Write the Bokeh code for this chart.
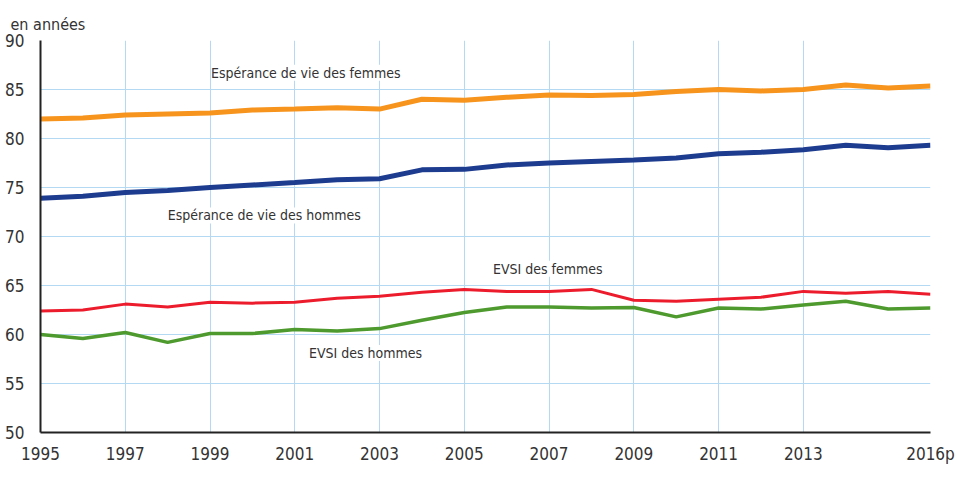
from bokeh.plotting import figure
from bokeh.models import ColumnDataSource, Label, FixedTicker, Range1d
from bokeh.embed import file_html
from bokeh.resources import INLINE

years = list(range(1995, 2017))
esp_femmes = [82.0, 82.1, 82.4, 82.5, 82.6, 82.9, 83.0, 83.15, 83.0, 84.0, 83.9,
              84.2, 84.45, 84.4, 84.5, 84.8, 85.0, 84.85, 85.0, 85.45, 85.15, 85.35]
esp_hommes = [73.9, 74.1, 74.5, 74.7, 75.0, 75.25, 75.5, 75.8, 75.9, 76.8, 76.85,
              77.3, 77.5, 77.65, 77.8, 78.0, 78.45, 78.6, 78.85, 79.3, 79.05, 79.3]
evsi_femmes = [62.4, 62.5, 63.1, 62.8, 63.3, 63.2, 63.3, 63.7, 63.9, 64.3, 64.6,
               64.4, 64.4, 64.6, 63.5, 63.4, 63.6, 63.8, 64.4, 64.2, 64.4, 64.1]
evsi_hommes = [60.0, 59.6, 60.2, 59.2, 60.1, 60.1, 60.5, 60.35, 60.6, 61.45, 62.25,
               62.8, 62.8, 62.7, 62.75, 61.8, 62.7, 62.6, 63.0, 63.4, 62.6, 62.7]

x_ticks = [1995, 1997, 1999, 2001, 2003, 2005, 2007, 2009, 2011, 2013, 2016]
x_tick_labels = {2016: "2016p"}
y_ticks = [50, 55, 60, 65, 70, 75, 80, 85, 90]

label_texts = ["Espérance de vie des femmes", "Espérance de vie des hommes",
               "EVSI des femmes", "EVSI des hommes"]
label_x = [2001.26, 2000.28, 2006.97, 2002.67]
label_y = [86.7, 72.15, 66.7, 58.1]

FONT = "'DejaVu Sans Condensed', 'Roboto', sans-serif"
GRID = "#b3daf2"

p = figure(width=956, height=466, output_backend="svg", toolbar_location=None,
           x_range=Range1d(1995, 2016), y_range=Range1d(50, 90),
           min_border_left=40, min_border_right=26, min_border_top=40, min_border_bottom=26)
p.outline_line_color = None

p.title.text = "en années"
p.title.align = "left"
p.title.offset = -30
p.title.text_font = FONT
p.title.text_font_size = "16px"
p.title.text_font_style = "normal"
p.title.text_color = "#333333"
p.title.standoff = 13

src = ColumnDataSource(dict(x=years, ef=esp_femmes, eh=esp_hommes, vf=evsi_femmes, vh=evsi_hommes))
p.line("x", "ef", source=src, line_color="#f7941d", line_width=5)
p.line("x", "eh", source=src, line_color="#1d3c8f", line_width=5)
p.line("x", "vf", source=src, line_color="#ec1c2d", line_width=3)
p.line("x", "vh", source=src, line_color="#4e9a2e", line_width=3.5)

for t, xx, yy in zip(label_texts, label_x, label_y):
    p.add_layout(Label(x=xx, y=yy, text=t, text_align="center", text_baseline="middle",
                       text_font=FONT, text_font_size="14px", text_color="#333333",
                       background_fill_color="white", level="underlay"))

p.xaxis.ticker = FixedTicker(ticks=x_ticks)
p.xaxis.major_label_overrides = x_tick_labels
p.yaxis.ticker = FixedTicker(ticks=y_ticks)
p.xgrid.ticker = FixedTicker(ticks=x_ticks)
p.ygrid.ticker = FixedTicker(ticks=y_ticks)
p.xgrid.grid_line_color = GRID
p.ygrid.grid_line_color = GRID
p.xgrid.grid_line_width = 1
p.ygrid.grid_line_width = 1

for ax in (p.xaxis, p.yaxis):
    ax.axis_line_color = "#222222"
    ax.axis_line_width = 2
    ax.major_tick_line_color = None
    ax.minor_tick_line_color = None
    ax.major_label_text_font = FONT
    ax.major_label_text_font_size = "17px"
    ax.major_label_text_color = "#333333"
p.xaxis.major_label_standoff = 5
p.yaxis.major_label_standoff = 10

open("out.html", "w").write(file_html(p, INLINE))
